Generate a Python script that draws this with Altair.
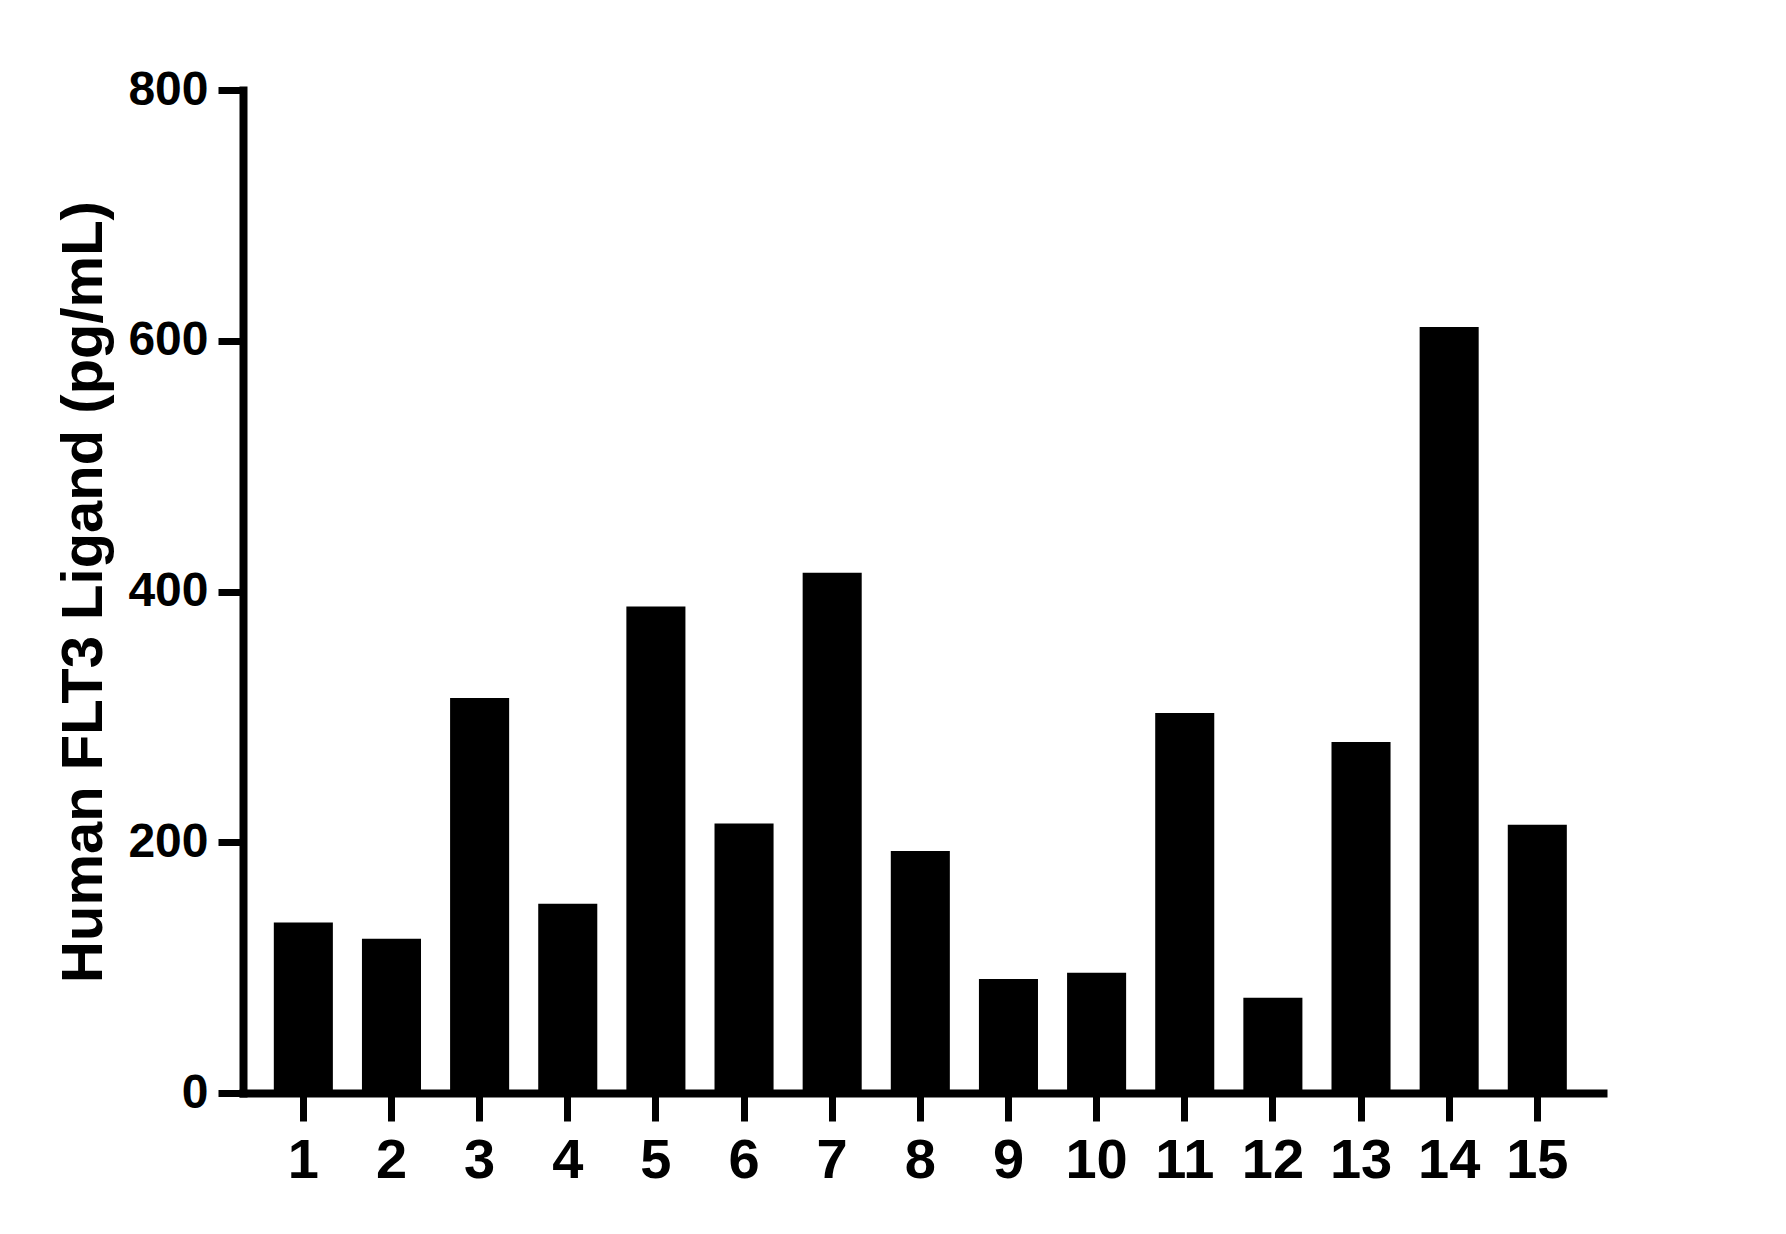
import altair as alt
import pandas as pd

samples = [str(i) for i in range(1, 16)]
values = [136, 123, 315, 151, 388, 215, 415, 193, 91, 96, 303, 76, 280, 611, 214]
y_ticks = [0, 200, 400, 600, 800]

df = pd.DataFrame({"sample": samples, "value": values})

FONT = "Liberation Sans"

chart = alt.Chart(df).mark_bar(color="black").encode(
    x=alt.X(
        "sample:N",
        sort=samples,
        title=None,
        scale=alt.Scale(paddingInner=0.33, paddingOuter=0.38, align=0.46),
        axis=alt.Axis(
            labelAngle=0,
            labelFont=FONT,
            labelFontWeight="bold",
            labelFontSize=56,
            labelColor="black",
            labelPadding=12,
            tickSize=28,
            tickWidth=7,
            tickColor="black",
            domainColor="black",
            domainWidth=8,
            domainCap="square",
        ),
    ),
    y=alt.Y(
        "value:Q",
        title="Human FLT3 Ligand (pg/mL)",
        scale=alt.Scale(domain=[0, 800], nice=False),
        axis=alt.Axis(
            values=y_ticks,
            grid=False,
            labelFont=FONT,
            labelFontWeight="bold",
            labelFontSize=48,
            labelColor="black",
            labelPadding=10,
            tickSize=25,
            tickWidth=7,
            tickColor="black",
            domainColor="black",
            domainWidth=8,
            domainCap="square",
            titleFont=FONT,
            titleFontWeight="bold",
            titleFontSize=58,
            titleColor="black",
            titlePadding=14,
        ),
    ),
).properties(
    width=1360,
    height=1003,
    background="white",
    autosize=alt.AutoSizeParams(type="none"),
    padding={"left": 235, "top": 82, "right": 170, "bottom": 130},
).configure_view(stroke="transparent", strokeWidth=0)

chart.save("out.html", embed_options={"renderer": "svg", "actions": False})
